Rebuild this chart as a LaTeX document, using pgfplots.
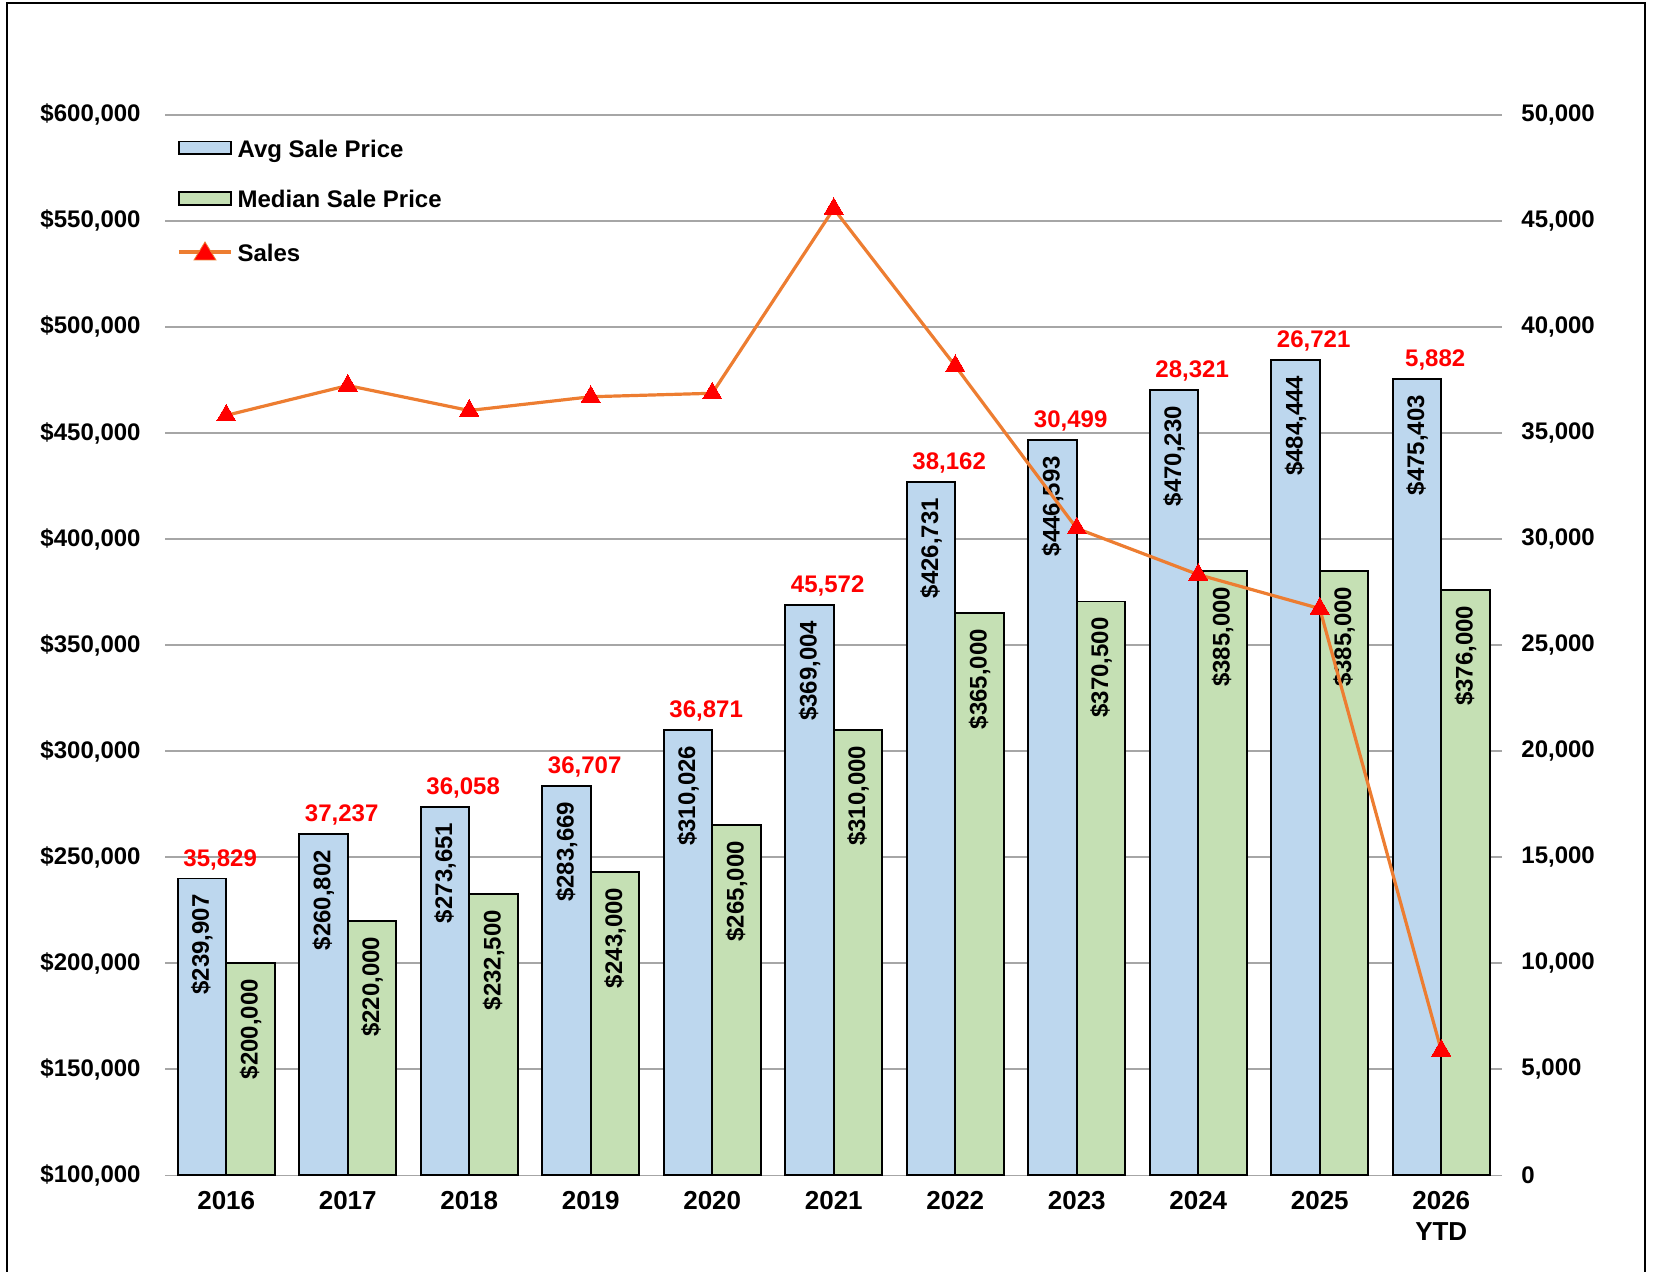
\documentclass[border=0pt]{standalone}
\usepackage{fontspec}
\setmainfont{Liberation Sans}
\usepackage{pgfplots}
\usepackage{pgfplotstable}
\pgfplotsset{compat=1.18}
\definecolor{avgblue}{RGB}{189,215,238}
\definecolor{medgreen}{RGB}{197,224,180}
\definecolor{salesorange}{RGB}{237,125,49}
\definecolor{gridgray}{RGB}{166,166,166}
\pgfplotstableread{
x avg med sales
0 239907 200000 35829
1 260802 220000 37237
2 273651 232500 36058
3 283669 243000 36707
4 310026 265000 36871
5 369004 310000 45572
6 426731 365000 38162
7 446593 370500 30499
8 470230 385000 28321
9 484444 385000 26721
10 475403 376000 5882
}\datatable
\begin{document}
\begin{tikzpicture}
\useasboundingbox (-82.75pt,-47.85pt) rectangle (743.75pt,587.65pt);
\draw[line width=1.3pt] (-79.25pt,-49pt) -- (-79.25pt,586.15pt) -- (739.75pt,586.15pt) -- (739.75pt,-49pt);
\begin{axis}[
  scale only axis,
  width=668.25pt, height=530.25pt,
  xmin=-0.5, xmax=10.5,
  ymin=100000, ymax=600000,
  ytick distance=50000,
  scaled y ticks=false,
  xtick={0,...,10},
  xticklabels={2016,2017,2018,2019,2020,2021,2022,2023,2024,2025,{2026\\YTD}},
  axis x line*=bottom, axis y line*=left,
  axis line style={draw=none},
  major tick length=0pt,
  ymajorgrids,
  grid style={gridgray, line width=0.8pt},
  /pgf/number format/assume math mode=true,
  /pgf/number format/.cd, fixed, precision=0, 1000 sep={,},
  /pgfplots/.cd,
  yticklabel={\$\pgfmathprintnumber{\tick}},
  yticklabel style={font=\fontsize{12}{14}\selectfont\bfseries, anchor=east, inner sep=0pt, xshift=-12.25pt},
  xticklabel style={font=\fontsize{13}{15.3}\selectfont\bfseries, align=center, anchor=north, inner sep=0pt, yshift=-8pt},
  legend cell align=left,
  legend style={draw=none, fill=none, at={(0,1)}, anchor=north west, xshift=5.75pt, yshift=-12.2pt,
    font=\fontsize{12}{14}\selectfont\bfseries, row sep=15.3pt, inner sep=0pt,
    nodes={inner sep=0pt, inner xsep=2.5pt}},
]
\addplot[ybar, bar width=0.4, bar shift=-0.2, fill=avgblue, draw=black, line width=0.9pt,
  legend image code/.code={\draw[fill=avgblue, draw=black, line width=0.9pt] (0pt,-2.2pt) rectangle (26pt,4.2pt);},
  nodes near coords={\rotatebox{90}{\$\pgfmathprintnumber[fixed,precision=0,1000 sep={,}]{\pgfplotspointmeta}}},
  every node near coord/.append style={anchor=north, inner sep=0pt, inner ysep=7.5pt, xshift=-12.15pt, font=\fontsize{12}{14}\selectfont\bfseries, text=black}]
  table[x=x, y=avg] {\datatable};
\addlegendentry{Avg Sale Price}
\addplot[ybar, bar width=0.4, bar shift=0.2, fill=medgreen, draw=black, line width=0.9pt,
  legend image code/.code={\draw[fill=medgreen, draw=black, line width=0.9pt] (0pt,-2.2pt) rectangle (26pt,4.2pt);},
  nodes near coords={\rotatebox{90}{\$\pgfmathprintnumber[fixed,precision=0,1000 sep={,}]{\pgfplotspointmeta}}},
  every node near coord/.append style={anchor=north, inner sep=0pt, inner ysep=7.5pt, xshift=12.15pt, font=\fontsize{12}{14}\selectfont\bfseries, text=black}]
  table[x=x, y=med] {\datatable};
\addlegendentry{Median Sale Price}
\addlegendimage{salesorange,
  legend image code/.code={\draw[salesorange, line width=1.6pt] (0pt,1pt) -- (26pt,1pt);
    \path[fill=red] (13pt,6pt) -- (7.5pt,-3pt) -- (18.5pt,-3pt) -- cycle;}}
\addlegendentry{Sales}
\addplot[draw=none, mark=none, forget plot, point meta=explicit,
  nodes near coords={\pgfmathprintnumber[fixed,precision=0,1000 sep={,}]{\pgfplotspointmeta}},
  every node near coord/.append style={anchor=base, inner sep=0pt, yshift=6.25pt, font=\fontsize{12}{14}\selectfont\bfseries, text=red}]
  table[x expr=\thisrow{x}-0.05, y=avg, meta=sales] {\datatable};
\end{axis}
\begin{axis}[
  scale only axis,
  width=668.25pt, height=530.25pt,
  xmin=-0.5, xmax=10.5,
  ymin=0, ymax=50000,
  ytick distance=5000,
  scaled y ticks=false,
  xtick=\empty,
  axis x line*=bottom, axis y line*=right,
  axis line style={draw=none},
  major tick length=0pt,
  /pgf/number format/assume math mode=true,
  /pgf/number format/.cd, fixed, precision=0, 1000 sep={,},
  /pgfplots/.cd,
  yticklabel style={font=\fontsize{12}{14}\selectfont\bfseries, anchor=west, inner sep=0pt, xshift=9.5pt},
]
\addplot[salesorange, line width=1.6pt, mark=triangle*, mark size=5.5pt, mark options={fill=red, draw=red, line width=0pt}]
  table[x=x, y=sales] {\datatable};
\end{axis}
\end{tikzpicture}
\end{document}
